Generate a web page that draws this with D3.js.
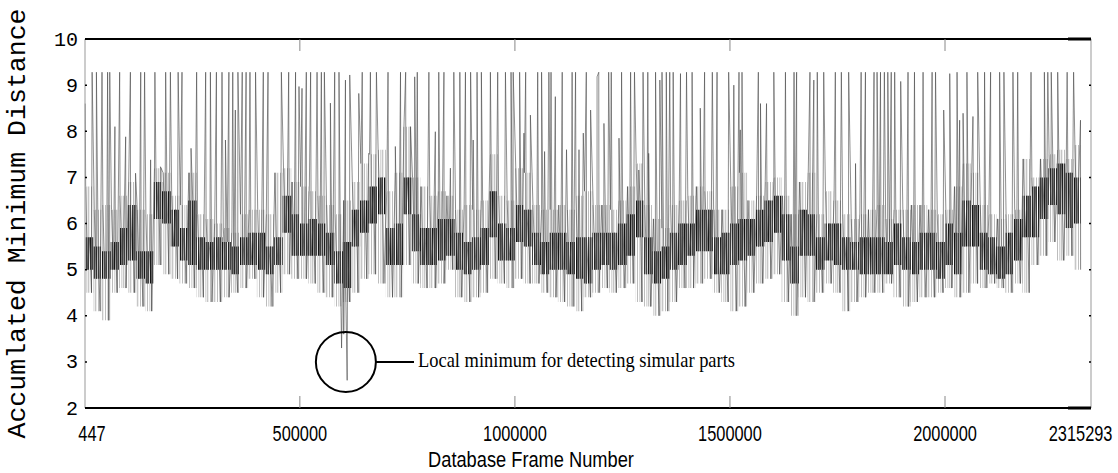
<!DOCTYPE html>
<html lang="en">
<head>
<meta charset="UTF-8">
<title>Accumulated Minimum Distance</title>
<script src="https://cdnjs.cloudflare.com/ajax/libs/d3/7.8.5/d3.min.js"></script>
<style>
  body { margin: 0; background: #fff; }
  svg { display: block; }
  .ytick { font-family: "Liberation Mono", "DejaVu Sans Mono", monospace; font-size: 20px; fill: #000; }
  .ytitle { font-family: "Liberation Mono", "DejaVu Sans Mono", monospace; font-size: 26px; fill: #000; }
  .xtick, .xtitle { font-family: "Liberation Sans", Arial, sans-serif; font-size: 22px; fill: #000; }
  .note { font-family: "Liberation Serif", "Times New Roman", serif; font-size: 21px; fill: #000; }
</style>
</head>
<body>
<div id="chart"></div>
<script>
  // frame range of the recording
  const firstFrame = 447;
  const lastFrame = 2315293;
  const axisEnd = 2339440;

  const xTicks = [447, 500000, 1000000, 1500000, 2000000, 2315293];
  const yTicks = [2, 3, 4, 5, 6, 7, 8, 9, 10];

  // the body of the signal, one entry per block of 20000 frames
  const binWidth = 20000;
  const binHigh = [
    6.8, 6.3, 6.4, 6.3, 6.6, 6.9, 6.3, 6.2, 7.2, 7.1, 6.6, 6.4, 7.1, 6.2, 6.1, 6.0, 5.9, 5.8, 6.2, 6.3,
    6.3, 6.2, 7.1, 7.2, 6.9, 6.8, 6.7, 6.6, 6.4, 6.2, 6.5, 6.9, 7.3, 7.5, 7.6, 6.7, 7.1, 8.1, 7.0, 6.8,
    6.6, 6.7, 6.6, 6.3, 6.4, 6.3, 6.5, 7.5, 6.6, 6.5, 7.2, 7.1, 6.4, 6.3, 6.3, 6.4, 6.3, 6.6, 6.7, 6.4,
    6.4, 6.3, 6.5, 6.8, 7.3, 6.4, 6.1, 5.9, 6.4, 6.5, 6.6, 6.8, 6.7, 6.3, 6.3, 6.8, 7.1, 6.5, 6.6, 6.9,
    7.0, 6.6, 6.2, 6.9, 7.1, 6.2, 6.7, 6.5, 6.2, 6.1, 6.2, 6.3, 6.4, 6.1, 6.3, 6.3, 6.4, 6.4, 6.3,
    6.2, 6.3, 6.8, 7.3, 7.1, 6.4, 6.2, 6.1, 6.2, 6.3, 7.4, 7.0, 7.4, 7.5, 7.6, 7.4, 7.7
  ];
  const binCoreHigh = [
    5.7, 5.5, 5.4, 5.6, 5.9, 6.4, 5.4, 5.4, 6.9, 6.7, 6.3, 5.9, 6.5, 5.7, 5.6, 5.7, 5.6, 5.5, 5.7, 5.8,
    5.8, 5.5, 5.7, 6.6, 6.2, 6.0, 6.1, 6.0, 5.8, 5.4, 5.6, 6.3, 6.5, 6.8, 7.0, 5.9, 6.0, 7.0, 6.2, 5.9,
    5.9, 6.1, 6.1, 5.8, 5.6, 5.7, 5.9, 6.7, 6.0, 5.9, 6.4, 6.3, 5.8, 5.6, 5.8, 5.8, 5.6, 5.7, 5.7, 5.8,
    5.8, 5.8, 6.0, 6.2, 6.5, 5.7, 5.4, 5.5, 5.8, 6.0, 6.0, 6.3, 6.3, 5.7, 5.8, 6.0, 6.1, 6.1, 6.3, 6.5,
    6.6, 6.2, 5.5, 6.3, 6.2, 5.7, 6.0, 6.0, 5.7, 5.6, 5.7, 5.7, 5.7, 5.6, 6.0, 5.7, 5.6, 5.8, 5.8,
    5.6, 6.0, 5.8, 6.5, 6.4, 5.8, 5.7, 5.5, 5.8, 6.1, 6.6, 6.8, 7.0, 7.2, 7.3, 7.1, 7.0
  ];
  const binCoreLow = [
    5.0, 4.8, 4.8, 5.0, 5.1, 5.2, 4.8, 4.7, 6.1, 6.0, 5.5, 5.2, 5.1, 5.0, 5.0, 5.0, 5.0, 4.9, 5.1, 5.1,
    5.0, 4.9, 5.1, 5.8, 5.3, 5.3, 5.3, 5.3, 5.1, 4.7, 4.6, 5.5, 5.8, 6.0, 6.2, 5.1, 5.1, 6.2, 5.4, 5.1,
    5.1, 5.2, 5.3, 5.0, 4.9, 5.0, 5.1, 5.7, 5.2, 5.2, 5.6, 5.5, 5.1, 4.9, 5.0, 5.0, 4.9, 4.8, 4.7, 5.0,
    5.1, 5.0, 5.1, 5.3, 5.7, 4.9, 4.7, 4.8, 5.0, 5.1, 5.3, 5.4, 5.4, 4.9, 4.9, 5.1, 5.2, 5.3, 5.5, 5.6,
    5.8, 5.2, 4.7, 5.3, 5.3, 5.0, 5.2, 5.1, 5.0, 5.0, 4.9, 4.9, 4.9, 4.9, 5.1, 5.0, 4.9, 5.0, 5.0,
    4.8, 5.1, 4.9, 5.5, 5.5, 5.0, 4.9, 4.8, 4.9, 5.2, 5.7, 5.7, 6.1, 6.4, 6.2, 5.9, 6.0
  ];
  const binLow = [
    4.5, 4.1, 3.9, 4.5, 4.6, 4.5, 4.2, 4.1, 5.1, 4.9, 4.8, 4.7, 4.6, 4.4, 4.3, 4.3, 4.4, 4.5, 4.6, 4.8,
    4.4, 4.2, 4.5, 4.9, 4.8, 4.8, 4.7, 4.5, 4.4, 4.2, 4.3, 4.5, 4.8, 4.9, 4.7, 4.4, 4.4, 5.1, 4.7, 4.6,
    4.6, 4.7, 5.0, 4.4, 4.3, 4.4, 4.5, 4.8, 4.7, 4.6, 4.8, 4.7, 4.7, 4.5, 4.4, 4.3, 4.2, 4.1, 4.4, 4.5,
    4.6, 4.5, 4.6, 4.7, 4.3, 4.2, 4.0, 4.1, 4.3, 4.6, 4.6, 4.7, 4.8, 4.5, 4.3, 4.1, 4.2, 4.5, 4.7, 4.8,
    4.9, 4.3, 4.0, 4.4, 4.3, 4.5, 4.7, 4.5, 4.1, 4.3, 4.4, 4.5, 4.5, 4.7, 4.4, 4.2, 4.3, 4.4, 4.4,
    4.5, 4.6, 4.4, 4.5, 4.7, 4.6, 4.7, 4.6, 4.5, 4.7, 4.5, 5.1, 5.3, 5.6, 5.2, 5.3, 5.0
  ];

  // spikes that hit the ceiling value (frame, in thousands)
  const capValue = 9.28;
  const capSpikesK = [
    17, 27, 40, 53, 58, 81, 106, 130, 139, 163, 188, 199, 217, 226, 260, 281, 292, 306, 319, 335, 344, 356, 366, 375, 384,
    397, 415, 426, 457, 474, 490, 515, 525, 540, 550, 557, 581, 591, 645, 664, 678, 705, 734, 746, 773,
    800, 823, 835, 858, 872, 885, 897, 912, 922, 943, 960, 978, 991, 996, 1011, 1025, 1053, 1062, 1079, 1084, 1110, 1133, 1141, 1166,
    1195, 1218, 1224, 1248, 1269, 1278, 1298, 1309, 1327, 1342, 1352, 1360, 1368, 1399, 1412, 1441, 1459, 1470, 1497, 1521, 1528, 1566,
    1602, 1629, 1649, 1655, 1686, 1703, 1718, 1745, 1759, 1776, 1805, 1815, 1835, 1842, 1850, 1859, 1867, 1875, 1883, 1914, 1929, 1949, 1970,
    1978, 2028, 2051, 2076, 2092, 2106, 2127, 2137, 2158, 2169, 2200, 2231, 2239, 2247, 2262, 2284, 2299
  ];
  // spikes that stop below the ceiling
  const peakK = [
    1, 70, 95, 118, 153, 176, 247, 327, 350,
    498, 505, 571, 606, 616, 637, 660, 722, 757, 767,
    815, 850, 903, 1021, 1036, 1069, 1094, 1120, 1149, 1159, 1176,
    1191, 1207, 1242, 1288, 1311, 1337, 1385, 1431, 1509, 1524, 1571,
    1585, 1695, 1792, 1897,
    1997, 2011, 2034, 2042, 2065, 2315
  ];
  const peakTop = [
    8.6, 8.1, 7.88, 7.09, 7.38, 7.23, 7.63, 7.81, 8.46,
    8.97, 8.93, 8.61, 9.11, 9.22, 8.82, 7.52, 7.67, 8.1, 9.18,
    7.99, 7.2, 7.81, 7.96, 8.35, 7.56, 8.75, 7.6, 7.6, 7.96, 8.46,
    9.18, 8.17, 7.85, 7.16, 7.52, 9.11, 9.25, 8.5, 9.0, 8.03, 8.6,
    8.6, 9.11, 7.3, 9.08,
    8.46, 9.25, 8.24, 8.39, 8.32, 8.24
  ];
  // the local minimum
  const dipK = [597, 602, 610];
  const dipBottom = [3.3, 3.6, 2.6];

  const W = 1118, H = 473;
  const plotL = 85, plotR = 1091, plotT = 39, plotB = 408;

  const svg = d3.select("#chart").append("svg")
    .attr("width", W).attr("height", H);

  // vertical hatching, used to give the dense band its texture
  const defs = svg.append("defs");
  function hatch(id, period, stripes, color) {
    const p = defs.append("pattern")
      .attr("id", id)
      .attr("patternUnits", "userSpaceOnUse")
      .attr("width", period).attr("height", 10);
    stripes.forEach(s => p.append("rect")
      .attr("x", s[0]).attr("y", 0).attr("width", s[1]).attr("height", 10)
      .attr("fill", color));
  }
  hatch("hatchOuter", 7, [[0, 0.7], [2.6, 0.6], [4.4, 0.8]], "#a0a0a0");
  hatch("hatchCore", 6, [[0, 1.3], [2.1, 0.8], [3.6, 1.2]], "#141414");

  const x = d3.scaleLinear().domain([firstFrame, axisEnd]).range([plotL, plotR]);
  const y = d3.scaleLinear().domain([2, 10]).range([plotB, plotT]);

  // build the series
  const points = [];
  binHigh.forEach((h, i) => {
    const f0 = binWidth * i;
    points.push([f0 + 2000, h], [f0 + 6500, binCoreLow[i]], [f0 + 11000, binCoreHigh[i]], [f0 + 15500, binLow[i]]);
  });
  capSpikesK.forEach(k => points.push([k * 1000, capValue]));
  peakK.forEach((k, i) => points.push([k * 1000, peakTop[i]]));
  dipK.forEach((k, i) => points.push([k * 1000, dipBottom[i]]));
  const series = points
    .map(p => [Math.min(Math.max(p[0], firstFrame), lastFrame), p[1]])
    .sort((a, b) => a[0] - b[0]);

  // dense band under the trace, one step per block
  const bins = binHigh.map((h, i) => ({
    f: Math.max(binWidth * i, firstFrame),
    hi: h, lo: binLow[i], cHi: binCoreHigh[i], cLo: binCoreLow[i]
  }));
  bins.push(Object.assign({}, bins[bins.length - 1], { f: lastFrame }));
  svg.append("path")
    .datum(bins)
    .attr("d", d3.area().curve(d3.curveStepAfter).x(d => x(d.f)).y0(d => y(d.lo)).y1(d => y(d.hi)))
    .attr("fill", "url(#hatchOuter)");
  svg.append("path")
    .datum(bins)
    .attr("d", d3.area().curve(d3.curveStepAfter).x(d => x(d.f)).y0(d => y(d.cLo)).y1(d => y(d.cHi)))
    .attr("fill", "url(#hatchCore)");

  const line = d3.line().x(d => x(d[0])).y(d => y(d[1]));

  svg.append("path")
    .datum(series)
    .attr("d", line)
    .attr("fill", "none")
    .attr("stroke", "#444")
    .attr("stroke-width", 0.6)
    .attr("stroke-linejoin", "bevel");

  // frame box
  svg.append("line").attr("x1", plotL).attr("x2", plotL).attr("y1", plotT).attr("y2", plotB)
    .attr("stroke", "#999").attr("stroke-width", 1);
  svg.append("line").attr("x1", plotR).attr("x2", plotR).attr("y1", plotT).attr("y2", plotB)
    .attr("stroke", "#999").attr("stroke-width", 1);
  [plotT, plotB].forEach(yy => {
    svg.append("line").attr("x1", plotL).attr("x2", plotR).attr("y1", yy).attr("y2", yy)
      .attr("stroke", "#000").attr("stroke-width", 2);
    svg.append("line").attr("x1", plotR - 23).attr("x2", plotR).attr("y1", yy).attr("y2", yy)
      .attr("stroke", "#000").attr("stroke-width", 3);
  });

  // x ticks on bottom and top
  const innerX = xTicks.slice(1, 5);
  const gx = svg.append("g");
  gx.selectAll(".xb").data(innerX).join("line")
    .attr("class", "xb")
    .attr("x1", d => x(d)).attr("x2", d => x(d))
    .attr("y1", plotB).attr("y2", plotB - 12)
    .attr("stroke", "#888").attr("stroke-width", 1);
  gx.selectAll(".xt").data(innerX).join("line")
    .attr("class", "xt")
    .attr("x1", d => x(d)).attr("x2", d => x(d))
    .attr("y1", plotT).attr("y2", plotT + 12)
    .attr("stroke", "#888").attr("stroke-width", 1);
  gx.selectAll("text").data(xTicks).join("text")
    .attr("class", "xtick")
    .attr("transform", (d, i) => `translate(${x(d) + (i === 0 ? 7 : 0)},441) scale(0.745,1)`)
    .attr("text-anchor", "middle")
    .text(d => d);

  // y ticks, both sides
  const gy = svg.append("g");
  gy.selectAll(".yl").data(yTicks.slice(1, -1)).join("line")
    .attr("class", "yl")
    .attr("x1", plotL).attr("x2", plotL + 2)
    .attr("y1", d => y(d)).attr("y2", d => y(d))
    .attr("stroke", "#000").attr("stroke-width", 1.5);
  gy.selectAll(".yr").data(yTicks.slice(1, -1)).join("line")
    .attr("class", "yr")
    .attr("x1", plotR - 2).attr("x2", plotR)
    .attr("y1", d => y(d)).attr("y2", d => y(d))
    .attr("stroke", "#000").attr("stroke-width", 1.5);
  gy.selectAll("text").data(yTicks).join("text")
    .attr("class", "ytick")
    .attr("x", 78)
    .attr("y", d => y(d))
    .attr("dy", "0.33em")
    .attr("text-anchor", "end")
    .text(d => d);

  // axis titles
  svg.append("text")
    .attr("class", "ytitle")
    .attr("transform", `translate(25,${(plotT + plotB) / 2}) rotate(-90)`)
    .attr("text-anchor", "middle")
    .attr("textLength", 430)
    .attr("lengthAdjust", "spacingAndGlyphs")
    .text("Accumlated Minimum Distance");

  svg.append("text")
    .attr("class", "xtitle")
    .attr("transform", "translate(531,467) scale(0.83,1)")
    .attr("text-anchor", "middle")
    .text("Database Frame Number");

  // annotation of the local minimum
  const cx = x(607000), cy = y(3.0), r = 30;
  svg.append("circle")
    .attr("cx", cx).attr("cy", cy).attr("r", r)
    .attr("fill", "none").attr("stroke", "#000").attr("stroke-width", 2);
  svg.append("line")
    .attr("x1", cx + r).attr("x2", 414)
    .attr("y1", cy).attr("y2", cy)
    .attr("stroke", "#000").attr("stroke-width", 2);
  svg.append("text")
    .attr("class", "note")
    .attr("x", 418).attr("y", 367)
    .attr("textLength", 317)
    .attr("lengthAdjust", "spacingAndGlyphs")
    .text("Local minimum for detecting simular parts");
</script>
</body>
</html>
